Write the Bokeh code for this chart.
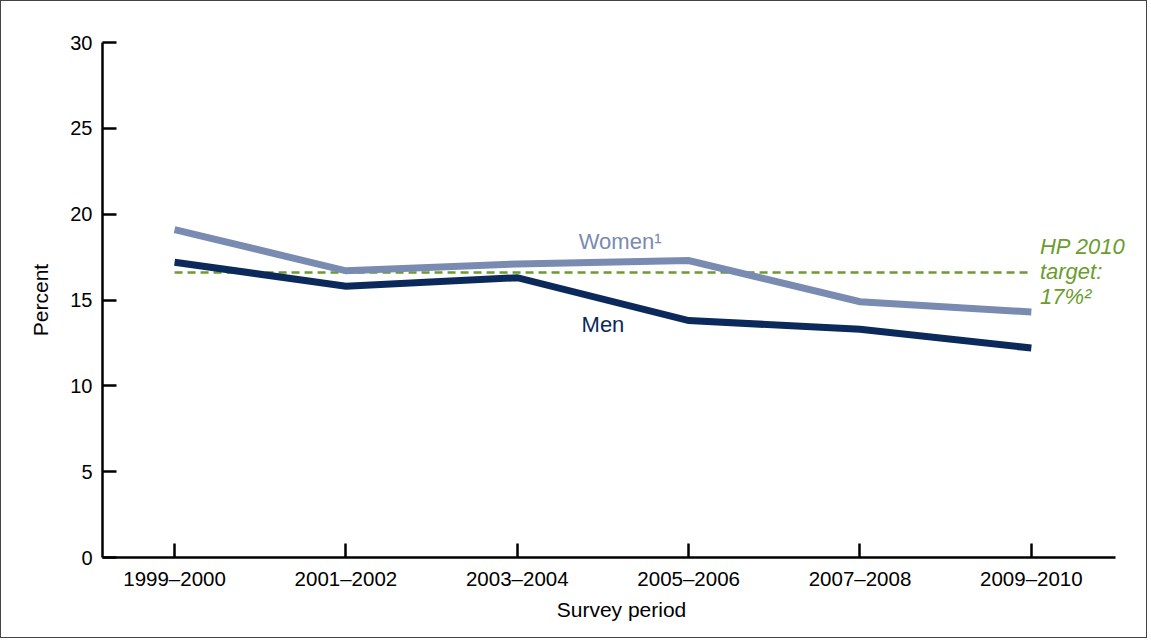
from bokeh.plotting import figure
from bokeh.models import Range1d, FixedTicker, Label
from bokeh.embed import file_html
from bokeh.resources import INLINE

periods = ["1999\u20132000", "2001\u20132002", "2003\u20132004",
           "2005\u20132006", "2007\u20132008", "2009\u20132010"]
women = [19.1, 16.7, 17.1, 17.3, 14.9, 14.3]
men = [17.2, 15.8, 16.3, 13.8, 13.3, 12.2]
target = 16.6
y_ticks = [0, 5, 10, 15, 20, 25, 30]

WOMEN_C = "#7a8bb1"
MEN_C = "#0b2a5b"
GREEN = "#6a9c2e"
FONT = "Liberation Sans"

xs = list(range(len(periods)))
X_START, X_AXIS_END, X_END = -0.4206, 5.491, 5.637

p = figure(width=1147, height=638, output_backend="svg", toolbar_location=None,
           x_range=Range1d(X_START, X_END), y_range=Range1d(0, 30),
           min_border_left=101, min_border_right=8, min_border_top=41,
           min_border_bottom=82)
p.styles = {"border": "1px solid #444"}
p.outline_line_color = None
p.grid.visible = False
p.background_fill_color = "white"
p.border_fill_color = "white"

# target line
p.line([xs[0], xs[-1]], [target, target], line_color=GREEN, line_width=2.5,
       line_dash="8 5")
p.line(xs, women, line_color=WOMEN_C, line_width=7, line_join="miter")
p.line(xs, men, line_color=MEN_C, line_width=7, line_join="miter")

# axes
xa = p.xaxis[0]
xa.ticker = FixedTicker(ticks=xs)
xa.bounds = (X_START, X_AXIS_END)
xa.major_label_overrides = {i: s for i, s in enumerate(periods)}
xa.axis_label = "Survey period"
ya = p.yaxis[0]
ya.ticker = FixedTicker(ticks=y_ticks)
ya.axis_label = "Percent"
for ax in (xa, ya):
    ax.axis_line_width = 2.5
    ax.axis_line_color = "black"
    ax.major_tick_line_width = 2.5
    ax.major_tick_line_color = "black"
    ax.major_tick_in = 14
    ax.major_tick_out = 0
    ax.minor_tick_line_color = None
    ax.major_label_text_font = FONT
    ax.major_label_text_color = "black"
    ax.axis_label_text_font = FONT
    ax.axis_label_text_font_size = "21px"
    ax.axis_label_text_font_style = "normal"
    ax.axis_label_text_color = "black"
xa.major_label_text_font_size = "20.5px"
ya.major_label_text_font_size = "20px"
xa.major_label_standoff = 9
xa.axis_label_standoff = 5
ya.major_label_standoff = 10
ya.axis_label_standoff = 15

# series labels
p.add_layout(Label(x=2.6, y=18.4, text="Women\u00b9", text_font=FONT,
                   text_font_size="22px", text_color=WOMEN_C,
                   text_align="center", text_baseline="middle"))
p.add_layout(Label(x=2.5, y=13.6, text="Men", text_font=FONT,
                   text_font_size="22px", text_color=MEN_C,
                   text_align="center", text_baseline="middle"))
for txt, yy in [("HP 2010", 18.1), ("target:", 16.65), ("17%\u00b2", 15.2)]:
    p.add_layout(Label(x=5.05, y=yy, text=txt, text_font=FONT,
                       text_font_size="22px", text_font_style="italic",
                       text_color=GREEN, text_align="left",
                       text_baseline="middle"))

open("out.html", "w").write(file_html(p, INLINE))
